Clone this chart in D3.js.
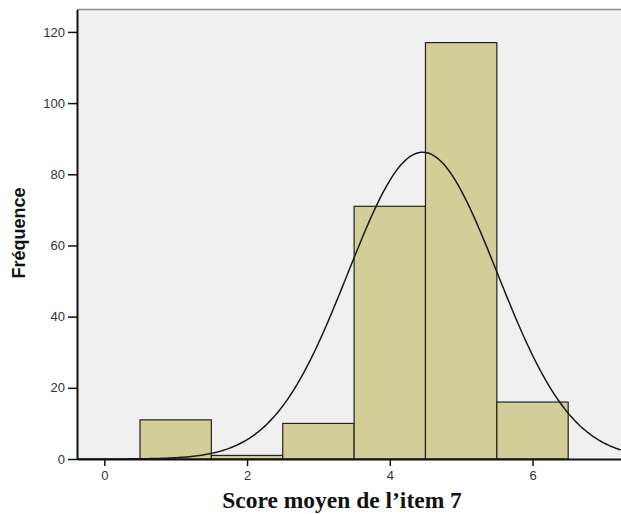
<!DOCTYPE html>
<html>
<head>
<meta charset="utf-8">
<script src="https://cdn.jsdelivr.net/npm/d3@7"></script>
<style>
body { margin: 0; background: #fff; }
svg { display: block; }
</style>
</head>
<body>
<div id="chart"></div>
<script>
// histogram bins (centre of each bin) and counts
var binCentres = [1, 2, 3, 4, 5, 6];
var counts = [11, 1, 10, 71, 117, 16];
var xTicks = [0, 2, 4, 6];
var yTicks = [0, 20, 40, 60, 80, 100, 120];
// normal curve fitted by SPSS
var fitMean = 4.46;
var fitSd = 1.046;

var W = 621, H = 514;
var plot = {left: 77, top: 9.5, right: 621, bottom: 459};

var svg = d3.select('#chart').append('svg')
    .attr('width', W).attr('height', H);

var x = d3.scaleLinear().domain([-0.383, 7.24]).range([plot.left, plot.right]);
var y = d3.scaleLinear().domain([0, 126.3]).range([plot.bottom, plot.top]);

// plot background
svg.append('rect')
    .attr('x', plot.left).attr('y', plot.top)
    .attr('width', plot.right - plot.left).attr('height', plot.bottom - plot.top)
    .attr('fill', '#f0f0f0');
svg.append('line')
    .attr('x1', plot.left).attr('x2', plot.right)
    .attr('y1', plot.top).attr('y2', plot.top)
    .attr('stroke', '#8a8a8a').attr('stroke-width', 1.5);

// bars
svg.selectAll('rect.bar').data(binCentres).enter().append('rect')
    .attr('class', 'bar')
    .attr('x', function(d) { return x(d - 0.5); })
    .attr('y', function(d, i) { return y(counts[i]); })
    .attr('width', function(d) { return x(d + 0.5) - x(d - 0.5); })
    .attr('height', function(d, i) { return y(0) - y(counts[i]); })
    .attr('fill', '#d3ce97')
    .attr('stroke', '#222').attr('stroke-width', 1.2);

// normal curve
var total = d3.sum(counts);
var pts = d3.range(-0.383, 7.25, 0.02).map(function(v) {
    var z = (v - fitMean) / fitSd;
    return [v, total * Math.exp(-0.5 * z * z) / (fitSd * Math.sqrt(2 * Math.PI))];
});
svg.append('path')
    .datum(pts)
    .attr('d', d3.line().x(function(d) { return x(d[0]); }).y(function(d) { return y(d[1]); }).curve(d3.curveBasis))
    .attr('fill', 'none').attr('stroke', '#1a1a1a').attr('stroke-width', 1.5);

// axes
var yAxis = svg.append('g')
    .attr('transform', 'translate(' + plot.left + ',0)')
    .call(d3.axisLeft(y).tickValues(yTicks).tickSize(9).tickPadding(3).tickSizeOuter(0));
var xAxis = svg.append('g')
    .attr('transform', 'translate(0,' + plot.bottom + ')')
    .call(d3.axisBottom(x).tickValues(xTicks).tickSize(7).tickPadding(5).tickSizeOuter(0));

[yAxis, xAxis].forEach(function(g) {
    g.select('.domain').attr('stroke', '#111').attr('stroke-width', 2);
    g.selectAll('.tick line').attr('stroke', '#111').attr('stroke-width', 1.5);
    g.selectAll('.tick text')
        .attr('fill', '#333')
        .style('font-family', 'Liberation Sans, Arial, sans-serif')
        .style('font-size', '13px');
});

// titles
svg.append('text')
    .attr('x', 342).attr('y', 508)
    .attr('text-anchor', 'middle')
    .style('font-family', 'Liberation Serif, Times New Roman, serif')
    .style('font-weight', 'bold').style('font-size', '23.5px')
    .attr('fill', '#111')
    .text('Score moyen de l\u2019item 7');

svg.append('text')
    .attr('transform', 'translate(25,233) rotate(-90)')
    .attr('text-anchor', 'middle')
    .style('font-family', 'Liberation Sans, Arial, sans-serif')
    .style('font-weight', 'bold').style('font-size', '18px')
    .attr('fill', '#111')
    .text('Fréquence');
</script>
</body>
</html>
